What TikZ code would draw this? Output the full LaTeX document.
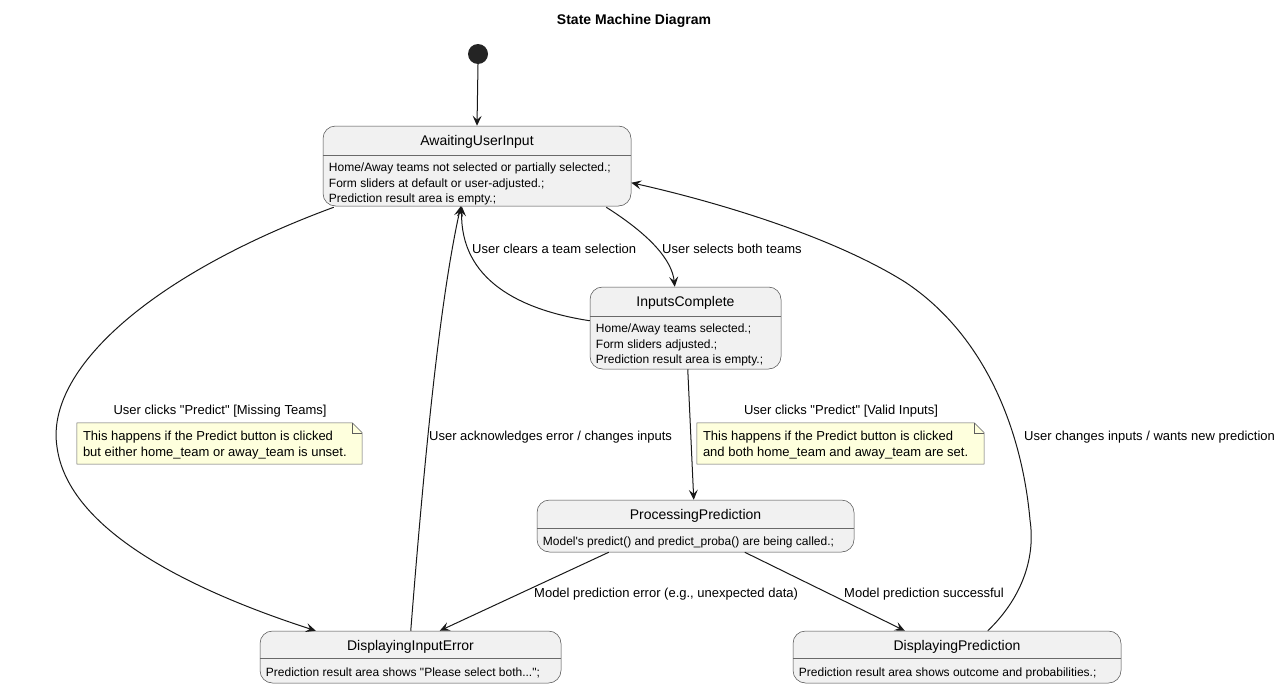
\documentclass[tikz,border=0pt]{standalone}
\usepackage{fontspec}
\setmainfont{Liberation Sans}[Ligatures=TeXOff]
\usetikzlibrary{arrows.meta,calc}
\definecolor{statefill}{HTML}{F1F1F1}
\definecolor{lineclr}{HTML}{181818}
\definecolor{notefill}{HTML}{FEFFDD}
\begin{document}
\begin{tikzpicture}[x=1pt,y=-1pt,
  statebox/.style={draw=lineclr!80, line width=0.5pt, fill=statefill, rounded corners=12.5pt, inner sep=0pt},
  stitle/.style={font=\fontsize{14}{16}\selectfont, inner sep=0pt, text=black},
  sdesc/.style={font=\fontsize{12}{15.5}\selectfont, align=left, inner sep=0pt, anchor=north west},
  sepline/.style={draw=lineclr!65, line width=0.4pt},
  elabel/.style={font=\fontsize{13}{15}\selectfont, inner sep=0pt},
  trans/.style={draw=lineclr, line width=1pt, -{Stealth[length=10pt,width=9pt,inset=4pt]}},
  notebox/.style={inner sep=0pt},
  notetext/.style={font=\fontsize{13}{16}\selectfont, align=left, inner sep=0pt, anchor=north west},
  noteline/.style={draw=lineclr!70, line width=0.5pt, fill=notefill},
  initstate/.style={circle, fill=lineclr!95!white, inner sep=0pt, minimum size=20pt}
]
\useasboundingbox (0,0) rectangle (1282,688);

% title
\node[font=\bfseries\fontsize{14}{16}\selectfont, inner sep=0pt] (title) at (634,21) {State Machine Diagram};

% initial state
\node[initstate] (start) at (478,54) {};

% states
\node[statebox, minimum width=308pt, minimum height=80pt] (await) at (477,166) {};
\draw[sepline] ($(await.north west)+(0,29)$) -- ($(await.north east)+(0,29)$);
\node[stitle] (awaitT) at ($(await.north)+(0,16)$) {AwaitingUserInput};
\node[sdesc] (awaitD) at ($(await.north west)+(6,37)$) {Home/Away teams not selected or partially selected.;\\Form sliders at default or user-adjusted.;\\Prediction result area is empty.;};

\node[statebox, minimum width=191pt, minimum height=82pt] (inputs) at (685.5,328) {};
\draw[sepline] ($(inputs.north west)+(0,29)$) -- ($(inputs.north east)+(0,29)$);
\node[stitle] (inputsT) at ($(inputs.north)+(0,16)$) {InputsComplete};
\node[sdesc] (inputsD) at ($(inputs.north west)+(6,37)$) {Home/Away teams selected.;\\Form sliders adjusted.;\\Prediction result area is empty.;};

\node[statebox, minimum width=317pt, minimum height=52pt] (proc) at (695.5,526) {};
\draw[sepline] ($(proc.north west)+(0,28)$) -- ($(proc.north east)+(0,28)$);
\node[stitle] (procT) at ($(proc.north)+(0,16)$) {ProcessingPrediction};
\node[sdesc] (procD) at ($(proc.north west)+(6,37)$) {Model's predict() and predict\_proba() are being called.;};

\node[statebox, minimum width=301pt, minimum height=52pt] (err) at (410.5,657) {};
\draw[sepline] ($(err.north west)+(0,27)$) -- ($(err.north east)+(0,27)$);
\node[stitle] (errT) at ($(err.north)+(0,16)$) {DisplayingInputError};
\node[sdesc] (errD) at ($(err.north west)+(6,37)$) {Prediction result area shows "Please select both...";};

\node[statebox, minimum width=328pt, minimum height=52pt] (pred) at (957,657) {};
\draw[sepline] ($(pred.north west)+(0,27)$) -- ($(pred.north east)+(0,27)$);
\node[stitle] (predT) at ($(pred.north)+(0,16)$) {DisplayingPrediction};
\node[sdesc] (predD) at ($(pred.north west)+(6,37)$) {Prediction result area shows outcome and probabilities.;};

% notes
\node[notebox, minimum width=285pt, minimum height=41pt] (note1) at (219.5,443.5) {};
\draw[noteline] (note1.north west) -- ($(note1.north east)+(-10,0)$) -- ($(note1.north east)+(0,10)$) -- (note1.south east) -- (note1.south west) -- cycle;
\draw[noteline, fill=none] ($(note1.north east)+(-10,0)$) -- ($(note1.north east)+(-10,10)$) -- ($(note1.north east)+(0,10)$);
\node[notetext] (note1T) at ($(note1.north west)+(6,8)$) {This happens if the Predict button is clicked\\but either home\_team or away\_team is unset.};

\node[notebox, minimum width=287pt, minimum height=41pt] (note2) at (840.5,443.5) {};
\draw[noteline] (note2.north west) -- ($(note2.north east)+(-10,0)$) -- ($(note2.north east)+(0,10)$) -- (note2.south east) -- (note2.south west) -- cycle;
\draw[noteline, fill=none] ($(note2.north east)+(-10,0)$) -- ($(note2.north east)+(-10,10)$) -- ($(note2.north east)+(0,10)$);
\node[notetext] (note2T) at ($(note2.north west)+(6,8)$) {This happens if the Predict button is clicked\\and both home\_team and away\_team are set.};

% transitions
\draw[trans] (start.south) -- (await.north);

\draw[trans] ($(await.south east)+(-25,1)$) .. controls (650,235) and (672,260) .. ($(inputs.north west)+(85,0)$);
\node[elabel, anchor=west] (l1) at (662,249) {User selects both teams};

\draw[trans] ($(inputs.north west)+(0,34)$) .. controls (520,310) and (460,280) .. ($(await.south west)+(139,0)$);
\node[elabel, anchor=west] (l2) at (472,249) {User clears a team selection};

\draw[trans] ($(await.south west)+(11,1)$) .. controls (150,275) and (45,370) .. (57,447) .. controls (68,530) and (190,590) .. ($(err.north west)+(56,0)$);
\node[elabel] (l3) at (220,411) {User clicks "Predict" [Missing Teams]};

\draw[trans] ($(err.north west)+(151,0)$) .. controls (425,450) and (440,300) .. ($(await.south west)+(138,0)$);
\node[elabel, anchor=west] (l4) at (429,437) {User acknowledges error / changes inputs};

\draw[trans] ($(inputs.south west)+(98,0)$) -- ($(proc.north west)+(157,0)$);
\node[elabel] (l5) at (841,411) {User clicks "Predict" [Valid Inputs]};

\draw[trans] ($(proc.south west)+(72,0)$) -- ($(err.north west)+(180,0)$);
\node[elabel, anchor=west] (l6) at (534,594) {Model prediction error (e.g., unexpected data)};

\draw[trans] ($(proc.south west)+(208,0)$) -- ($(pred.north west)+(112,0)$);
\node[elabel, anchor=west] (l7) at (844,594) {Model prediction successful};

\draw[trans] ($(pred.north west)+(195,0)$) .. controls (1020,600) and (1036,560) .. (1030,520) .. controls (1022,430) and (985,335) .. (905,282) .. controls (825,232) and (700,198) .. ($(await.north east)+(0,57)$);
\node[elabel, anchor=west] (l8) at (1024,437) {User changes inputs / wants new prediction};

\end{tikzpicture}
\end{document}
